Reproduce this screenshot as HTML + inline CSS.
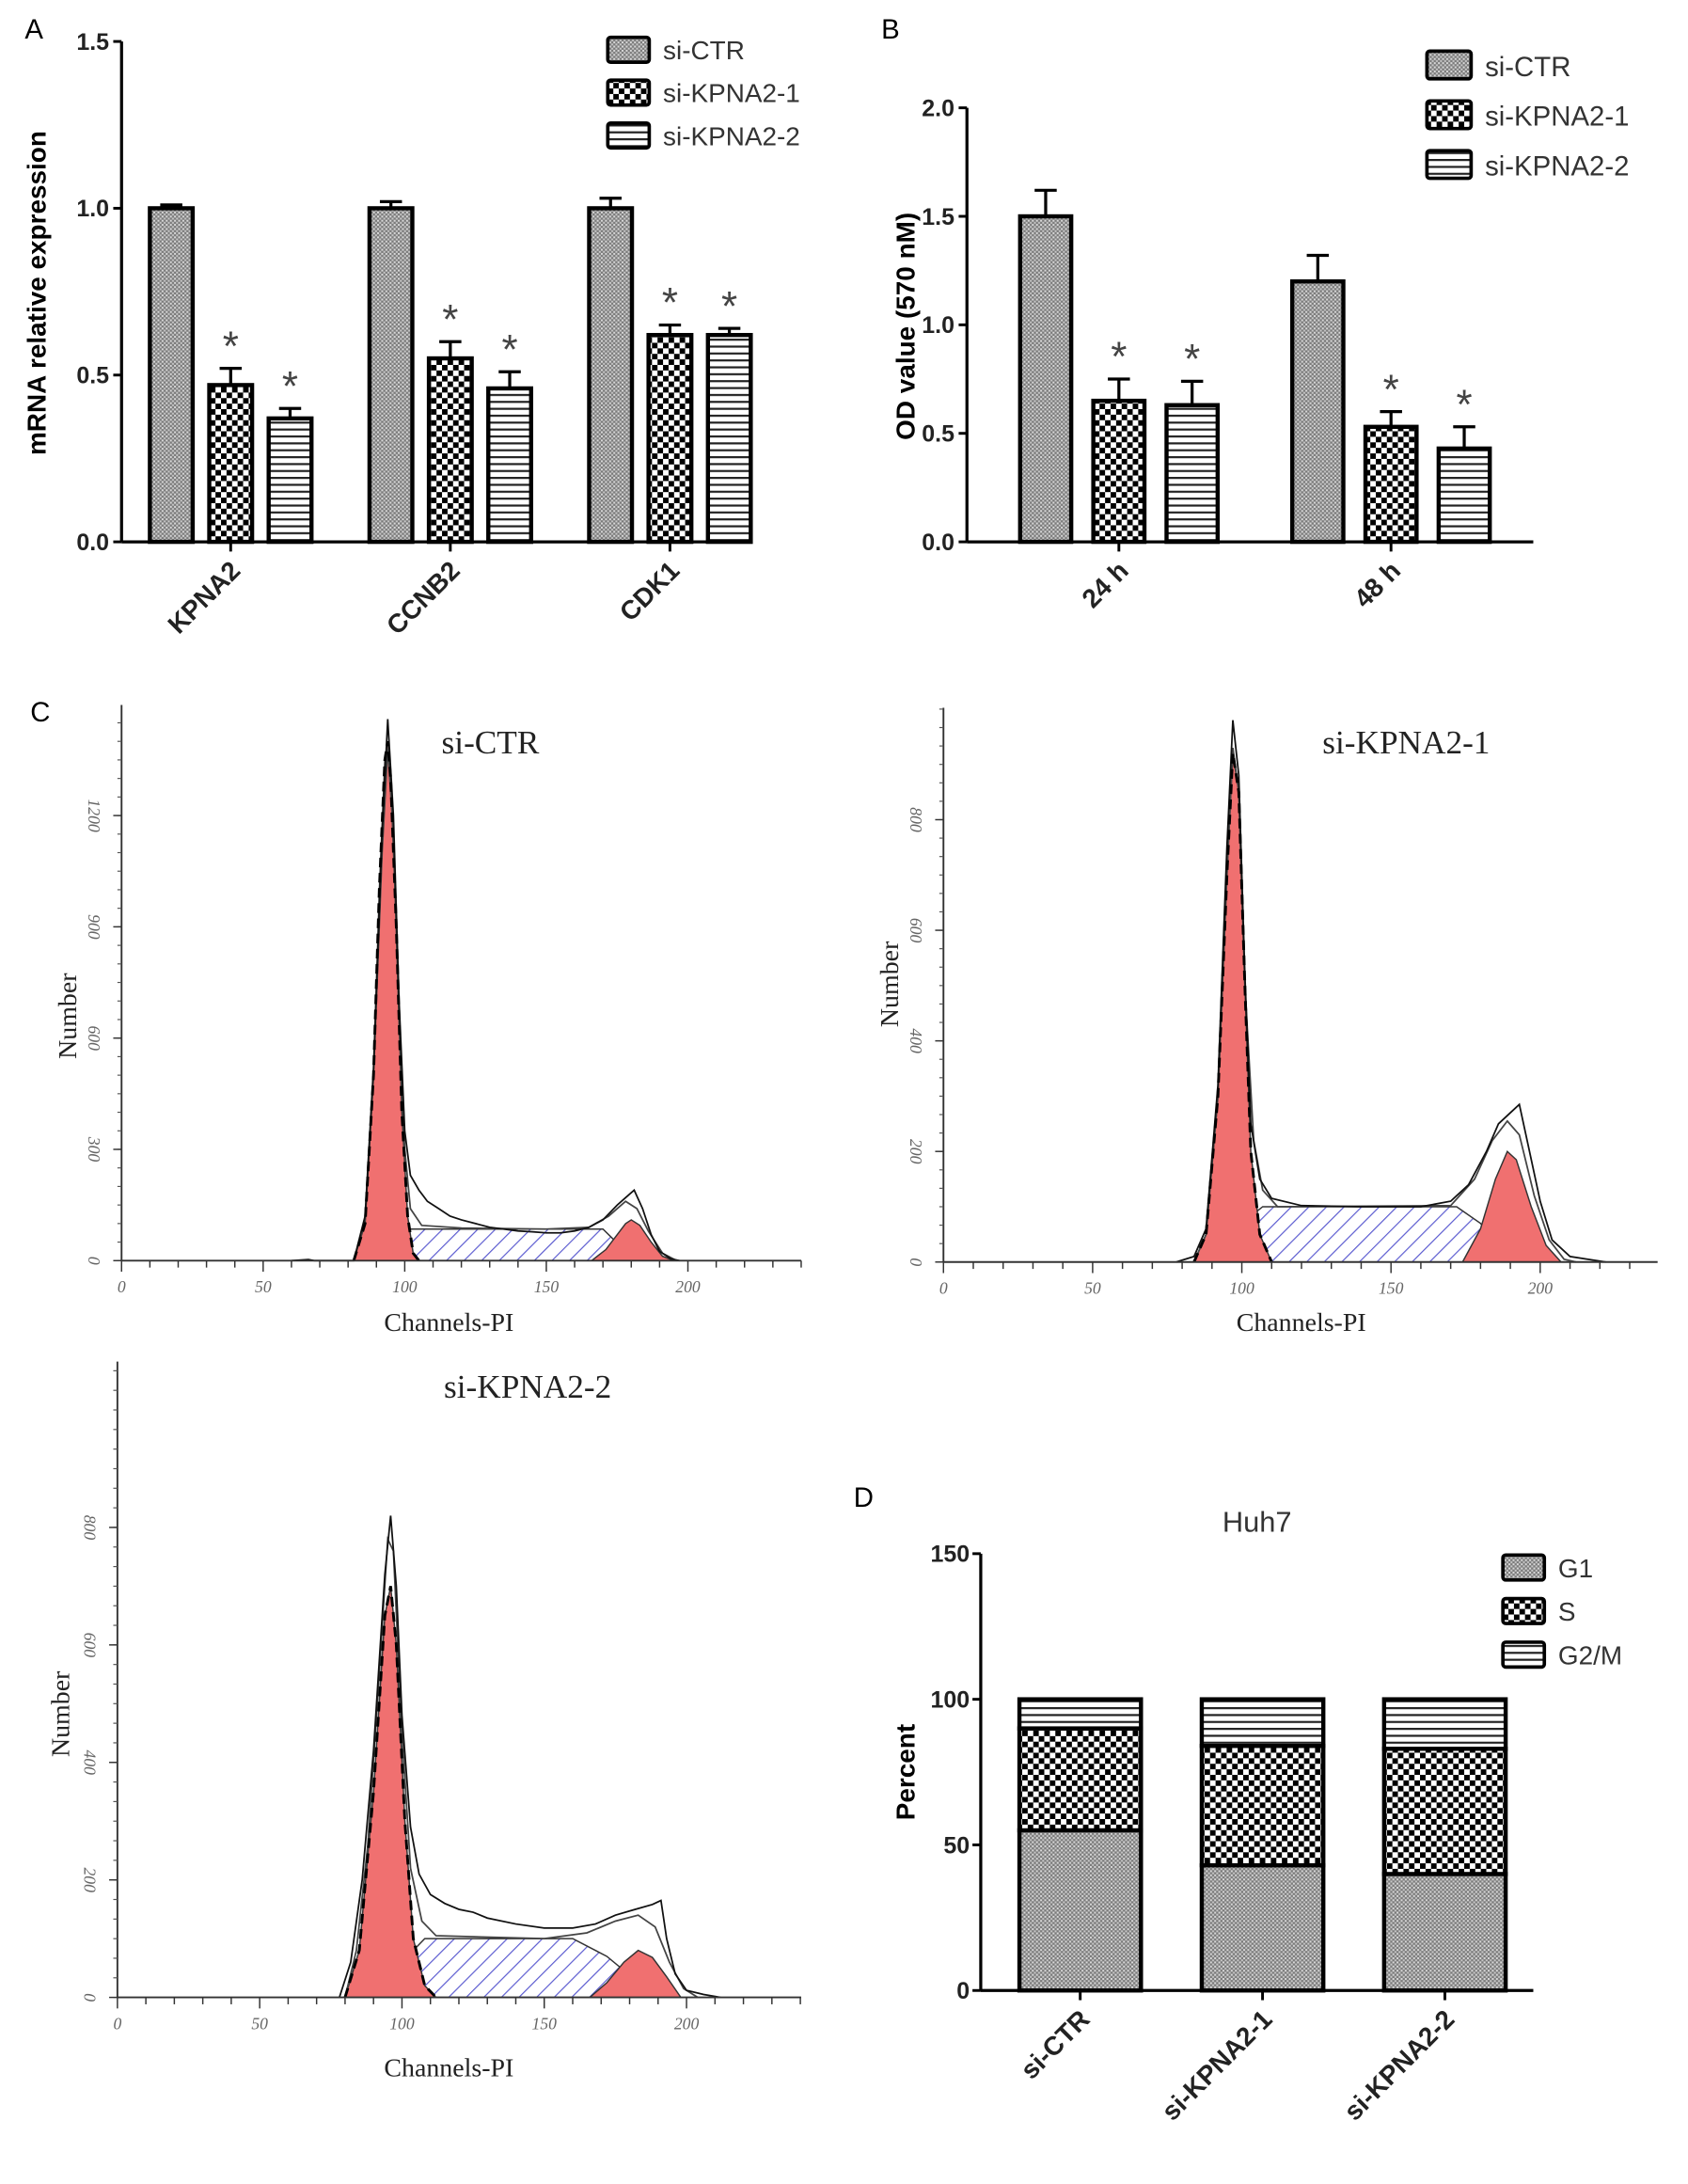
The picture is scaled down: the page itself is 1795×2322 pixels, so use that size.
<!DOCTYPE html>
<html><head><meta charset="utf-8">
<style>
html,body{margin:0;padding:0;background:#fff;}
svg{display:block;}
.sans{font-family:"Liberation Sans",Arial,sans-serif;}
.serif{font-family:"Liberation Serif","Times New Roman",serif;}
</style></head>
<body>
<svg id="fig" width="1795" height="2322" viewBox="0 0 1222 1580" preserveAspectRatio="none" xmlns="http://www.w3.org/2000/svg">
<defs>
<pattern id="pDots" width="3" height="3" patternUnits="userSpaceOnUse">
<rect width="3" height="3" fill="#7a7a7a"/><rect x="0" y="0" width="1.4" height="1.4" fill="#d8d8d8"/><rect x="1.5" y="1.5" width="1.4" height="1.4" fill="#c8c8c8"/>
</pattern>
<pattern id="pCheck" width="8" height="8" patternUnits="userSpaceOnUse">
<rect width="8" height="8" fill="#fff"/><rect x="0" y="0" width="4" height="4" fill="#000"/><rect x="4" y="4" width="4" height="4" fill="#000"/>
</pattern>
<pattern id="pStripe" width="6" height="5" patternUnits="userSpaceOnUse">
<rect width="6" height="5" fill="#fff"/><rect x="0" y="0" width="6" height="1.5" fill="#222"/>
</pattern>
<pattern id="pBlue" width="9" height="9" patternUnits="userSpaceOnUse" patternTransform="rotate(45)">
<rect width="9" height="9" fill="#fff"/><rect x="0" y="0" width="0.8" height="9" fill="#5a5ad0"/>
</pattern>
</defs>
</svg>
<script>
// ---------- Panel A data ----------
const aCategories = ["KPNA2", "CCNB2", "CDK1"];
const aSeries = ["si-CTR", "si-KPNA2-1", "si-KPNA2-2"];
const aCtr = [1.0, 1.0, 1.0];
const aK1 = [0.47, 0.55, 0.62];
const aK2 = [0.37, 0.46, 0.62];
const aCtrErr = [0.01, 0.02, 0.03];
const aK1Err = [0.05, 0.05, 0.03];
const aK2Err = [0.03, 0.05, 0.02];
const aTicks = ["0.0", "0.5", "1.0", "1.5"];
// ---------- Panel B data ----------
const bCategories = ["24 h", "48 h"];
const bCtr = [1.5, 1.2];
const bK1 = [0.65, 0.53];
const bK2 = [0.63, 0.43];
const bCtrErr = [0.12, 0.12];
const bK1Err = [0.1, 0.07];
const bK2Err = [0.11, 0.1];
const bTicks = ["0.0", "0.5", "1.0", "1.5", "2.0"];
// ---------- Panel D data ----------
const dCategories = ["si-CTR", "si-KPNA2-1", "si-KPNA2-2"];
const dPhases = ["G1", "S", "G2/M"];
const dG1 = [55, 43, 40];
const dS = [35, 41, 43];
const dG2M = [10, 16, 17];
const dTicks = ["0", "50", "100", "150"];
// ---------- Panel C data (channel, count) ----------
const c1Total = [[60,0],[66,3],[68,0],[82,0],[86,120],[89,520],[92,1150],[94,1460],[96,1200],[98,700],[100,350],[102,230],[105,190],[108,160],[112,140],[116,120],[120,110],[125,100],[130,90],[135,85],[140,80],[145,78],[150,75],[155,75],[160,80],[165,90],[170,110],[175,150],[178,170],[181,190],[184,140],[187,70],[190,25],[194,5],[197,0]];
const c1Fit = [[82,0],[86,110],[89,500],[92,1100],[94,1380],[96,1150],[98,650],[100,300],[102,140],[106,95],[120,88],[150,85],[165,90],[172,120],[178,160],[182,140],[186,80],[191,20],[196,0]];
const c1G1 = [[82,0],[86,100],[89,500],[91,1000],[93,1350],[94,1400],[95,1300],[97,900],[99,400],[101,120],[103,20],[105,0]];
const c1S = [[88,0],[93,40],[97,70],[101,85],[170,85],[174,55],[178,20],[182,0]];
const c1G2 = [[166,0],[171,30],[175,70],[178,100],[180,110],[183,95],[187,50],[191,12],[195,0]];
const c2Total = [[78,0],[84,10],[88,60],[92,320],[95,750],[97,980],[99,880],[101,520],[103,250],[106,150],[110,115],[120,102],[140,100],[160,100],[170,110],[176,140],[182,200],[186,250],[190,270],[193,285],[196,210],[200,110],[204,40],[210,10],[216,5],[222,0]];
const c2Fit = [[84,0],[88,50],[92,300],[95,700],[97,930],[99,850],[101,500],[104,220],[107,130],[112,100],[170,102],[178,150],[184,220],[189,255],[193,230],[198,120],[203,40],[208,5],[212,0]];
const c2G1 = [[84,0],[88,50],[92,300],[95,700],[97,920],[99,850],[101,500],[103,200],[106,50],[110,0]];
const c2S = [[94,0],[100,70],[107,100],[172,100],[180,70],[186,30],[192,0]];
const c2G2 = [[174,0],[180,60],[185,150],[189,200],[192,185],[197,100],[202,30],[207,0]];
const c3Total = [[78,0],[82,60],[86,200],[90,420],[94,720],[96,820],[98,700],[100,480],[103,290],[106,210],[110,175],[115,160],[120,150],[125,145],[130,135],[140,125],[150,118],[160,118],[168,125],[175,140],[182,150],[188,158],[191,165],[193,100],[196,40],[200,12],[206,5],[212,0]];
const c3Fit = [[80,0],[84,80],[88,260],[92,550],[95,780],[97,760],[100,450],[103,220],[107,130],[112,105],[150,100],[165,110],[175,130],[183,140],[189,120],[194,60],[199,15],[204,0]];
const c3G1 = [[80,0],[85,80],[90,350],[94,650],[96,700],[98,600],[101,300],[104,100],[108,20],[112,0]];
const c3S = [[90,0],[100,60],[108,100],[160,100],[172,70],[182,30],[190,0]];
const c3G2 = [[166,0],[172,25],[178,60],[183,80],[188,68],[193,35],[198,0]];
const c1YTicks = [0, 300, 600, 900, 1200];
const c2YTicks = [0, 200, 400, 600, 800];
const c3YTicks = [0, 200, 400, 600, 800];
const cXTicks = [0, 50, 100, 150, 200];

const NS = "http://www.w3.org/2000/svg";
const svg = document.getElementById('fig');
function mk(tag, attrs, parent) {
  const e = document.createElementNS(NS, tag);
  for (const k in attrs) e.setAttribute(k, attrs[k]);
  (parent || svg).appendChild(e);
  return e;
}
function txt(s, x, y, attrs, parent) {
  const e = mk('text', Object.assign({x: x, y: y}, attrs), parent);
  e.textContent = s;
  return e;
}
const fills = ["url(#pDots)", "url(#pCheck)", "url(#pStripe)"];

[["A",18,28],["B",638,28],["C",22,522],["D",618,1090]].forEach(function(p){
  const t = txt(p[0], p[1], p[2], {class:'sans','font-size':20});
  
  
});

function groupedBars(cfg, series, errs, tickLabels) {
  const g = mk('g', {});
  
  
  const y = v => cfg.y0 - v / cfg.max * (cfg.y0 - cfg.yTop);
  mk('line', {x1: cfg.x0, y1: cfg.yTop, x2: cfg.x0, y2: cfg.y0, stroke: '#000', 'stroke-width': 2.2}, g);
  mk('line', {x1: cfg.x0, y1: cfg.y0, x2: cfg.xEnd, y2: cfg.y0, stroke: '#000', 'stroke-width': 2.2}, g);
  tickLabels.forEach(function(lab, i) {
    const v = cfg.max * i / (tickLabels.length - 1);
    const yy = y(v);
    mk('line', {x1: cfg.x0 - 6, y1: yy, x2: cfg.x0, y2: yy, stroke: '#000', 'stroke-width': 2}, g);
    const t = txt(lab, cfg.x0 - 9, yy + 6, {class: 'sans', 'font-size': 17, 'font-weight': 'bold', 'text-anchor': 'end', fill: '#222'}, g);
    
    
  });
  cfg.cats.forEach(function(cat, ci) {
    const cx = cfg.firstCenter + ci * cfg.groupStep;
    mk('line', {x1: cx, y1: cfg.y0, x2: cx, y2: cfg.y0 + 7, stroke: '#000', 'stroke-width': 2}, g);
    const lx = cx + 8, ly = cfg.y0 + 22;
    const t = txt(cat, lx, ly, {class: 'sans', 'font-size': 19, 'font-weight': 'bold', 'text-anchor': 'end', transform: 'rotate(-45 ' + lx + ' ' + ly + ')', fill: '#222'}, g);
    
    
    series.forEach(function(vals, si) {
      const bx = cx + (si - 1) * cfg.barStep - cfg.barW / 2;
      const v = vals[ci], e = errs[si][ci];
      const yt = y(v), ye = y(v + e);
      const ln = mk('line', {x1: bx + cfg.barW / 2, y1: ye, x2: bx + cfg.barW / 2, y2: yt, stroke: '#000', 'stroke-width': 2.2}, g);
      
      
      mk('line', {x1: bx + cfg.barW / 2 - 8, y1: ye, x2: bx + cfg.barW / 2 + 8, y2: ye, stroke: '#000', 'stroke-width': 2.2}, g);
      const r = mk('rect', {x: bx, y: yt, width: cfg.barW, height: cfg.y0 - yt, fill: fills[si], stroke: '#000', 'stroke-width': 3}, g);
      
      
      if (si > 0) {
        const s = txt('*', bx + cfg.barW / 2, ye - 6, {class: 'sans', 'font-size': 30, 'text-anchor': 'middle', fill: '#444'}, g);
        
        
      }
    });
  });
  const yl = txt(cfg.ylabel, 0, 0, {class: 'sans', 'font-size': 19, 'font-weight': 'bold', 'text-anchor': 'middle', transform: 'translate(' + cfg.ylx + ' ' + cfg.yly + ') rotate(-90)'}, g);
  
  
  return g;
}
function legend(labels, x, y0, step, bw, bh, fs) {
  labels.forEach(function(l, i) {
    const r = mk('rect', {x: x, y: y0 + i * step, width: bw, height: bh, fill: fills[i], stroke: '#000', 'stroke-width': 2.5, rx: 2});
    
    
    const t = txt(l, x + bw + 10, y0 + i * step + bh - 2, {class: 'sans', 'font-size': fs, fill: '#333'});
    
    
  });
}

groupedBars({name: 'chart-a', x0: 88, yTop: 30, y0: 392, xEnd: 522, max: 1.5, cats: aCategories, firstCenter: 167, groupStep: 159, barStep: 43, barW: 31, ylabel: 'mRNA relative expression', ylx: 33, yly: 212}, [aCtr, aK1, aK2], [aCtrErr, aK1Err, aK2Err], aTicks);
legend(aSeries, 440, 27, 31, 30, 18, 19);
groupedBars({name: 'chart-b', x0: 700, yTop: 78, y0: 392, xEnd: 1110, max: 2.0, cats: bCategories, firstCenter: 810, groupStep: 197, barStep: 53, barW: 37, ylabel: 'OD value (570 nM)', ylx: 662, yly: 236}, [bCtr, bK1, bK2], [bCtrErr, bK1Err, bK2Err], bTicks);
legend(aSeries, 1033, 37, 36, 32, 20, 20);

(function() {
  const x0 = 710, y0 = 1440, yTop = 1124, max = 150;
  const y = v => y0 - v / max * (y0 - yTop);
  const g = mk('g', {});
  
  
  const ti = txt('Huh7', 910, 1108, {class: 'sans', 'font-size': 21, 'text-anchor': 'middle', fill: '#333'}, g);
  
  
  mk('line', {x1: x0, y1: yTop, x2: x0, y2: y0, stroke: '#000', 'stroke-width': 2.2}, g);
  mk('line', {x1: x0, y1: y0, x2: 1110, y2: y0, stroke: '#000', 'stroke-width': 2.2}, g);
  dTicks.forEach(function(lab, i) {
    const yy = y(max * i / (dTicks.length - 1));
    mk('line', {x1: x0 - 6, y1: yy, x2: x0, y2: yy, stroke: '#000', 'stroke-width': 2}, g);
    const t = txt(lab, x0 - 8, yy + 6, {class: 'sans', 'font-size': 17, 'font-weight': 'bold', 'text-anchor': 'end', fill: '#222'}, g);
    
    
  });
  const stack = [dG1, dS, dG2M];
  dCategories.forEach(function(cat, ci) {
    const cx = 782 + ci * 132, bw = 88;
    let base = 0;
    stack.forEach(function(arr, si) {
      const v = arr[ci];
      const r = mk('rect', {x: cx - bw / 2, y: y(base + v), width: bw, height: y(base) - y(base + v), fill: fills[si], stroke: '#000', 'stroke-width': 3}, g);
      
      
      base += v;
    });
    mk('line', {x1: cx, y1: y0, x2: cx, y2: y0 + 7, stroke: '#000', 'stroke-width': 2}, g);
    const lx = cx + 8, ly = y0 + 22;
    const t = txt(cat, lx, ly, {class: 'sans', 'font-size': 19, 'font-weight': 'bold', 'text-anchor': 'end', transform: 'rotate(-45 ' + lx + ' ' + ly + ')', fill: '#222'}, g);
    
    
  });
  const yl = txt('Percent', 0, 0, {class: 'sans', 'font-size': 19, 'font-weight': 'bold', 'text-anchor': 'middle', transform: 'translate(662 1282) rotate(-90)'}, g);
  
  
})();
legend(dPhases, 1088, 1125, 31.5, 30, 18, 19);

function flow(cfg, total, fit, g1, s, g2, yTicks) {
  const g = mk('g', {});
  
  
  const X = c => cfg.x0 + c / 50 * cfg.px50;
  const Y = n => cfg.y0 - n / cfg.tickStep * cfg.pxStep;
  const pts = a => a.map(p => X(p[0]).toFixed(1) + ',' + Y(p[1]).toFixed(1)).join(' ');
  const sp = mk('polygon', {points: pts(s), fill: 'url(#pBlue)', stroke: '#333', 'stroke-width': 1}, g);
  
  
  const gp = mk('polygon', {points: pts(g1), fill: '#f07070', stroke: '#333', 'stroke-width': 1}, g);
  
  
  const g2p = mk('polygon', {points: pts(g2), fill: '#f07070', stroke: '#333', 'stroke-width': 1}, g);
  
  
  const fl = mk('polyline', {points: pts(fit), fill: 'none', stroke: '#444', 'stroke-width': 1.2}, g);
  
  
  const tl = mk('polyline', {points: pts(total), fill: 'none', stroke: '#111', 'stroke-width': 1.2}, g);
  
  
  const dl = mk('polyline', {points: pts(g1), fill: 'none', stroke: '#000', 'stroke-width': 2, 'stroke-dasharray': '7,4'}, g);
  
  
  mk('line', {x1: cfg.x0, y1: cfg.yTop, x2: cfg.x0, y2: cfg.y0, stroke: '#333', 'stroke-width': 1.3}, g);
  mk('line', {x1: cfg.x0, y1: cfg.y0, x2: cfg.xEnd, y2: cfg.y0, stroke: '#333', 'stroke-width': 1.3}, g);
  for (let c = 0; X(c) <= cfg.xEnd + 0.5; c += 10) {
    mk('line', {x1: X(c), y1: cfg.y0, x2: X(c), y2: cfg.y0 + (c % 50 === 0 ? 8 : 5), stroke: '#333', 'stroke-width': 1}, g);
  }
  cXTicks.forEach(function(c) {
    const t = txt(String(c), X(c), cfg.y0 + 23, {class: 'serif', 'font-size': 12, 'font-style': 'italic', 'text-anchor': 'middle', fill: '#666'}, g);
    
    
  });
  for (let yy = cfg.y0; yy >= cfg.yTop; yy -= cfg.pxStep / 6) {
    mk('line', {x1: cfg.x0 - 3, y1: yy, x2: cfg.x0, y2: yy, stroke: '#555', 'stroke-width': 0.8}, g);
  }
  yTicks.forEach(function(n) {
    const yy = Y(n);
    mk('line', {x1: cfg.x0 - 6, y1: yy, x2: cfg.x0, y2: yy, stroke: '#333', 'stroke-width': 1}, g);
    const lx = cfg.x0 - 24;
    const t = txt(String(n), 0, 0, {class: 'serif', 'font-size': 12, 'font-style': 'italic', 'text-anchor': 'middle', fill: '#666', transform: 'translate(' + lx + ' ' + yy + ') rotate(90)'}, g);
    
    
  });
  const tt = txt(cfg.title, cfg.tx, cfg.ty, {class: 'serif', 'font-size': 24, 'text-anchor': 'middle', fill: '#222'}, g);
  
  
  const xt = txt('Channels-PI', cfg.xtx, cfg.xty, {class: 'serif', 'font-size': 19, 'text-anchor': 'middle', fill: '#222'}, g);
  
  
  const yt = txt('Number', 0, 0, {class: 'serif', 'font-size': 19, 'text-anchor': 'middle', fill: '#222', transform: 'translate(' + cfg.ytx + ' ' + cfg.yty + ') rotate(-90)'}, g);
  
  
}
flow({name: 'histogram-si-ctr', x0: 88, y0: 912, yTop: 510, xEnd: 580, px50: 102.5, tickStep: 300, pxStep: 80.5, title: 'si-CTR', tx: 355, ty: 545, xtx: 325, xty: 963, ytx: 55, yty: 735}, c1Total, c1Fit, c1G1, c1S, c1G2, c1YTicks);
flow({name: 'histogram-si-kpna2-1', x0: 683, y0: 913, yTop: 512, xEnd: 1200, px50: 108, tickStep: 200, pxStep: 80, title: 'si-KPNA2-1', tx: 1018, ty: 545, xtx: 942, xty: 963, ytx: 650, yty: 712}, c2Total, c2Fit, c2G1, c2S, c2G2, c2YTicks);
flow({name: 'histogram-si-kpna2-2', x0: 85, y0: 1445, yTop: 985, xEnd: 580, px50: 103, tickStep: 200, pxStep: 85, title: 'si-KPNA2-2', tx: 382, ty: 1011, xtx: 325, xty: 1502, ytx: 50, yty: 1240}, c3Total, c3Fit, c3G1, c3S, c3G2, c3YTicks);
</script>
</body></html>
